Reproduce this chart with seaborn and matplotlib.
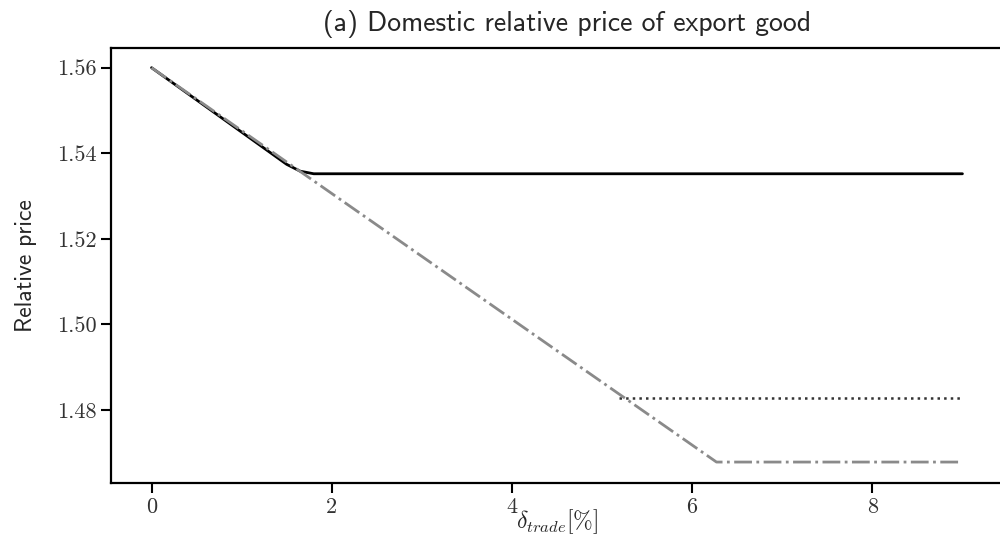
import matplotlib
matplotlib.use('Agg')
import matplotlib.pyplot as plt
import pandas as pd
import seaborn as sns

# Dados
x_solid = [0, 1.5, 1.65, 1.8, 9]
y_solid = [1.56, 1.5374, 1.5358, 1.5352, 1.5352]

x_dotted = [5.19, 9]
y_dotted = [1.4828, 1.4828]

x_dashdot = [0, 6.27, 9]
y_dashdot = [1.56, 1.4678, 1.4678]

xticks = [0, 2, 4, 6, 8]
yticks = [1.48, 1.50, 1.52, 1.54, 1.56]

sns.set_style('white')
plt.rcParams['mathtext.fontset'] = 'cm'

fig = plt.figure(figsize=(10, 5.5), dpi=100)
ax = fig.add_axes([0.111, 0.1218, 0.892, 0.7909])

df_solid = pd.DataFrame({'x': x_solid, 'y': y_solid})
df_dotted = pd.DataFrame({'x': x_dotted, 'y': y_dotted})
df_dashdot = pd.DataFrame({'x': x_dashdot, 'y': y_dashdot})

# linha sólida por baixo, traço-ponto cinza por cima
sns.lineplot(data=df_solid, x='x', y='y', ax=ax, color='black', linewidth=2.0, sort=False)
sns.lineplot(data=df_dotted, x='x', y='y', ax=ax, color='#333333', linewidth=1.8, linestyle=':', sort=False)
sns.lineplot(data=df_dashdot, x='x', y='y', ax=ax, color='#8a8a8a', linewidth=2.0, linestyle='-.', sort=False)

ax.set_xlim(-0.45, 9.45)
ax.set_ylim(1.4629, 1.5646)
ax.set_xticks(xticks)
ax.set_yticks(yticks)
ax.set_xticklabels([str(t) for t in xticks], fontfamily='cmr10', fontsize=16, color='#333333')
ax.set_yticklabels(['%.2f' % t for t in yticks], fontfamily='cmr10', fontsize=16, color='#333333')

ax.tick_params(direction='out', length=7, width=1.5, color='black', bottom=True, left=True)
for s in ax.spines.values():
    s.set_linewidth(1.6)
    s.set_color('black')
ax.spines['right'].set_visible(False)  # fica fora da imagem na referência

ax.set_title('(a) Domestic relative price of export good', fontfamily='cmss10', fontsize=20, pad=12, x=0.511)
ax.set_ylabel('Relative price', fontfamily='cmss10', fontsize=17, labelpad=14)
ax.set_xlabel(r'$\delta_{trade}[\%]$', fontsize=17, labelpad=-7)

fig.savefig('out.png', dpi=100)
